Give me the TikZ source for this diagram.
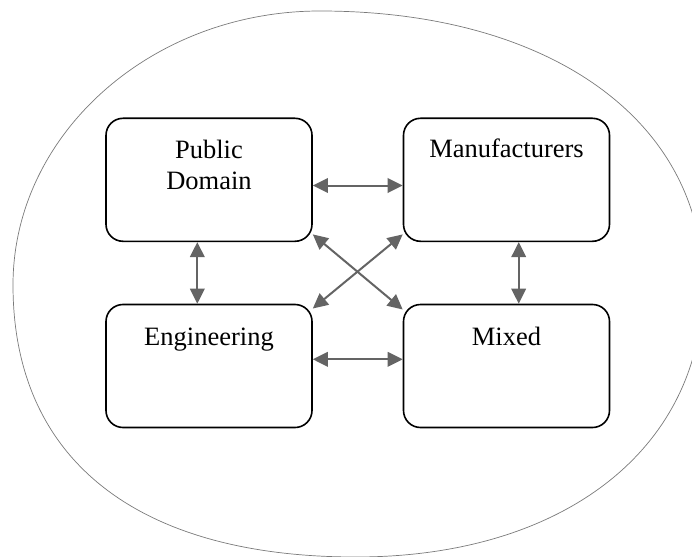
\documentclass[tikz,border=0pt]{standalone}
\usepackage{fontspec}
\setmainfont{Liberation Serif}
\usetikzlibrary{arrows.meta}
\definecolor{linkgray}{HTML}{646464}
\definecolor{rimgray}{HTML}{7A7A7A}
\begin{document}
\begin{tikzpicture}[x=1pt,y=-1pt,
  box/.style={draw=black, line width=1.6pt, rounded corners=17pt,
    minimum width=206pt, minimum height=123pt, inner sep=0pt},
  lbl/.style={font=\fontsize{26.5}{31.3}\selectfont, inner sep=0pt, align=center},
  link/.style={draw=linkgray, line width=2pt,
    {Triangle[length=15pt,width=14.5pt]}-{Triangle[length=15pt,width=14.5pt]}},
  rim/.style={draw=rimgray, line width=0.7pt}]
\useasboundingbox (0,0) rectangle (692,556);
\clip (0,0) rectangle (692,556);

% surrounding outline, four quarter arcs
\draw[rim] (13,285)
  .. controls (13,134.3) and (151.2,11) .. (320,11)
  .. controls (549.8,11) and (703,120.6) .. (703,285)
  .. controls (703,448.2) and (564.2,557) .. (356,557)
  .. controls (136.5,557) and (13,459.1) .. cycle;

% the four groups
\node[box] (pd) at (209,179.8) {};
\node[box] (mf) at (506.5,179.8) {};
\node[box] (en) at (209,366) {};
\node[box] (mx) at (506.5,366) {};

\node[lbl, anchor=north] (pdt) at (209,139.9) {Public\\Domain};
\node[lbl, anchor=base] (mft) at (506.5,157.5) {Manufacturers};
\node[lbl, anchor=base] (ent) at (209,345.3) {Engineering};
\node[lbl, anchor=base] (mxt) at (506.5,345) {Mixed};

% two-way links
\draw[link] ([yshift=-5.7pt]pd.east) -- ([yshift=-5.7pt]mf.west);
\draw[link] ([yshift=6.7pt]en.east) -- ([yshift=6.7pt]mx.west);
\draw[link] ([xshift=-11.7pt]pd.south) -- ([xshift=-11.7pt]en.north);
\draw[link] ([xshift=12.2pt]mf.south) -- ([xshift=12.2pt]mx.north);
\draw[link] ([yshift=7.7pt]pd.south east) -- ([yshift=-5.8pt]mx.north west);
\draw[link] ([yshift=7.7pt]mf.south west) -- ([yshift=-4.8pt]en.north east);
\end{tikzpicture}
\end{document}
